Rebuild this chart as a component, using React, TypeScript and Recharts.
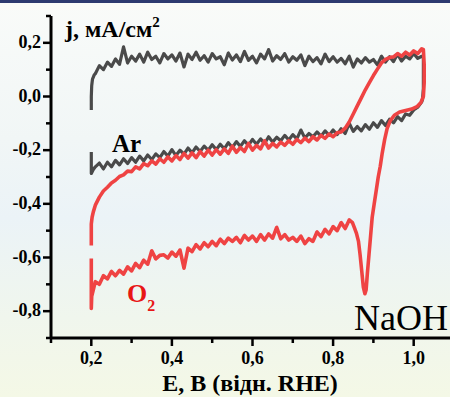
import React from 'react';
import { LineChart, Line, XAxis, YAxis } from 'recharts';

// Potential grid (V vs RHE) for the noisy branches
const E_GRID = [
  0.21, 0.22, 0.23, 0.24, 0.25, 0.26, 0.27, 0.28, 0.29, 0.3,
  0.31, 0.32, 0.33, 0.34, 0.35, 0.36, 0.37, 0.38, 0.39, 0.4,
  0.41, 0.42, 0.43, 0.44, 0.45, 0.46, 0.47, 0.48, 0.49, 0.5,
  0.51, 0.52, 0.53, 0.54, 0.55, 0.56, 0.57, 0.58, 0.59, 0.6,
  0.61, 0.62, 0.63, 0.64, 0.65, 0.66, 0.67, 0.68, 0.69, 0.7,
  0.71, 0.72, 0.73, 0.74, 0.75, 0.76, 0.77, 0.78, 0.79, 0.8,
  0.81, 0.82, 0.83, 0.84, 0.85, 0.86, 0.87, 0.88, 0.89, 0.9,
  0.91, 0.92, 0.93, 0.94, 0.95, 0.96, 0.97, 0.98, 0.99, 1.0,
  1.01, 1.02,
];

// Ar, upper branch (mA/cm2), aligned with E_GRID
const AR_UPPER = [
  0.085, 0.115, 0.1, 0.128, 0.112, 0.14, 0.12, 0.185, 0.125, 0.15,
  0.132, 0.158, 0.128, 0.165, 0.138, 0.15, 0.125, 0.16, 0.14, 0.155,
  0.132, 0.162, 0.11, 0.158, 0.138, 0.165, 0.135, 0.152, 0.128, 0.16,
  0.14, 0.148, 0.118, 0.162, 0.136, 0.155, 0.13, 0.168, 0.135, 0.15,
  0.125, 0.158, 0.14, 0.175, 0.132, 0.152, 0.138, 0.16, 0.128, 0.148,
  0.135, 0.155, 0.115, 0.15, 0.13, 0.145, 0.122, 0.158, 0.13, 0.148,
  0.128, 0.142, 0.122, 0.15, 0.11, 0.14, 0.125, 0.145, 0.128, 0.138,
  0.118, 0.15, 0.128, 0.148, 0.13, 0.158, 0.132, 0.15, 0.14, 0.16,
  0.142, 0.15,
];

// Ar, lower branch, aligned with E_GRID
const AR_LOWER = [
  -0.262, -0.248, -0.27, -0.245, -0.262, -0.238, -0.255, -0.232, -0.25, -0.228,
  -0.245, -0.222, -0.24, -0.218, -0.235, -0.214, -0.228, -0.205, -0.222, -0.198,
  -0.22, -0.2, -0.215, -0.192, -0.21, -0.188, -0.205, -0.185, -0.2, -0.18,
  -0.198, -0.178, -0.195, -0.172, -0.19, -0.168, -0.186, -0.165, -0.182, -0.16,
  -0.178, -0.158, -0.175, -0.15, -0.17, -0.152, -0.165, -0.145, -0.162, -0.142,
  -0.158, -0.125, -0.155, -0.138, -0.15, -0.132, -0.148, -0.128, -0.145, -0.125,
  -0.142, -0.12, -0.138, -0.1, -0.13, -0.112, -0.128, -0.105, -0.122, -0.098,
  -0.115, -0.09, -0.108, -0.085, -0.098, -0.075, -0.09, -0.065, -0.07, -0.05,
  -0.04, -0.02,
];

// Ar, short pieces at the ends of the sweep [E, j]
const AR_LOWER_START = [[0.2, -0.207], [0.2, -0.287], [0.205, -0.272]];
const AR_TURN = [[1.022, -0.01], [1.024, 0.03], [1.024, 0.1], [1.024, 0.15]];
const AR_UPPER_END = [[0.207, 0.08], [0.203, 0.065], [0.201, 0.04], [0.2, 0.0], [0.2, -0.05]];

// O2, upper branch, aligned with E_GRID
const O2_UPPER = [
  -0.405, -0.375, -0.352, -0.338, -0.322, -0.312, -0.298, -0.292, -0.278, -0.28,
  -0.262, -0.27, -0.25, -0.258, -0.24, -0.252, -0.232, -0.245, -0.225, -0.24,
  -0.22, -0.235, -0.212, -0.23, -0.21, -0.228, -0.205, -0.222, -0.2, -0.218,
  -0.198, -0.215, -0.195, -0.212, -0.185, -0.208, -0.19, -0.205, -0.175, -0.2,
  -0.182, -0.195, -0.165, -0.192, -0.175, -0.188, -0.17, -0.182, -0.165, -0.178,
  -0.16, -0.172, -0.155, -0.168, -0.15, -0.162, -0.145, -0.156, -0.14, -0.15,
  -0.135, -0.132, -0.118, -0.095, -0.065, -0.035, -0.005, 0.025, 0.052, 0.078,
  0.102, 0.125, 0.138, 0.145, 0.148, 0.16, 0.15, 0.165, 0.155, 0.17,
  0.16, 0.178,
];

// O2, lower branch, aligned with E_GRID from 0.21 to 0.84
const O2_LOWER = [
  -0.69, -0.7, -0.668, -0.68, -0.652, -0.668, -0.648, -0.662, -0.635, -0.65,
  -0.622, -0.638, -0.61, -0.625, -0.575, -0.605, -0.592, -0.59, -0.602, -0.58,
  -0.595, -0.572, -0.64, -0.565, -0.578, -0.552, -0.568, -0.545, -0.56, -0.54,
  -0.556, -0.532, -0.548, -0.528, -0.54, -0.525, -0.545, -0.518, -0.535, -0.52,
  -0.54, -0.515, -0.535, -0.512, -0.528, -0.488, -0.53, -0.515, -0.535, -0.525,
  -0.54, -0.52, -0.548, -0.53, -0.54, -0.505, -0.522, -0.495, -0.512, -0.485,
  -0.5, -0.47, -0.492, -0.46,
];

// O2, short pieces [E, j]
const O2_START = [[0.2, -0.555], [0.2, -0.475], [0.202, -0.45], [0.205, -0.43]];
const O2_TURN = [
  [1.024, 0.175], [1.026, 0.12], [1.026, 0.05], [1.024, 0.0], [1.018, -0.022],
  [1.008, -0.038], [0.995, -0.047], [0.98, -0.052], [0.965, -0.058], [0.952, -0.07],
  [0.942, -0.09], [0.934, -0.12], [0.928, -0.16], [0.922, -0.21], [0.917, -0.26],
  [0.912, -0.3], [0.907, -0.35], [0.902, -0.4], [0.897, -0.45], [0.893, -0.52],
  [0.889, -0.59], [0.885, -0.66], [0.882, -0.72], [0.879, -0.735], [0.875, -0.71],
  [0.871, -0.65], [0.867, -0.59], [0.863, -0.54], [0.858, -0.51], [0.853, -0.49],
  [0.848, -0.47],
];
const O2_END = [[0.205, -0.72], [0.201, -0.745], [0.2, -0.79], [0.2, -0.604]];

const X_TICKS = [0.1, 0.2, 0.3, 0.4, 0.5, 0.6, 0.7, 0.8, 0.9, 1.0, 1.1];
const Y_TICKS = [-0.9, -0.8, -0.7, -0.6, -0.5, -0.4, -0.3, -0.2, -0.1, 0.0, 0.1, 0.2, 0.3];

const pts = (arr: number[][]) => arr.map(([x, y]) => ({ x, y }));

const arData = [
  ...pts(AR_LOWER_START),
  ...E_GRID.map((x, i) => ({ x, y: AR_LOWER[i] })),
  ...pts(AR_TURN),
  ...E_GRID.map((x, i) => ({ x, y: AR_UPPER[i] })).reverse(),
  ...pts(AR_UPPER_END),
];

const o2Data = [
  ...pts(O2_START),
  ...E_GRID.map((x, i) => ({ x, y: O2_UPPER[i] })),
  ...pts(O2_TURN),
  ...O2_LOWER.map((y, i) => ({ x: E_GRID[i], y })).reverse(),
  ...pts(O2_END),
];

const FONT = '"Liberation Serif", "Times New Roman", serif';
const fmt = (v: number) => v.toFixed(1).replace('.', ',').replace('-0,0', '0,0');
const isMajor = (v: number) => Math.round(Math.abs(v) * 10) % 2 === 0;

const XTick = (props: any) => {
  const { x, y, payload } = props;
  const v = payload.value as number;
  const major = isMajor(v);
  return (
    <g>
      <line x1={x} x2={x} y1={y} y2={y + (major ? 8 : 5)} stroke="#000" strokeWidth={2.5} />
      {major && v > 0.15 && v < 1.05 && (
        <text x={x} y={y + 26} textAnchor="middle" fontFamily={FONT} fontWeight="bold" fontSize={18} fill="#000">
          {fmt(v)}
        </text>
      )}
    </g>
  );
};

const YTick = (props: any) => {
  const { x, y, payload } = props;
  const v = payload.value as number;
  const major = isMajor(v);
  return (
    <g>
      <line x1={x - (major ? 8 : 5)} x2={x} y1={y} y2={y} stroke="#000" strokeWidth={2.5} />
      {major && v > -0.85 && v < 0.25 && (
        <text x={x - 10} y={y + 5} textAnchor="end" fontFamily={FONT} fontWeight="bold" fontSize={18} fill="#000">
          {fmt(v)}
        </text>
      )}
    </g>
  );
};

export default function App() {
  return (
    <div
      style={{
        position: 'absolute',
        left: 0,
        top: 0,
        width: 450,
        height: 397,
        overflow: 'hidden',
        background: 'linear-gradient(180deg, #f9fbf9 0%, #f1f6f6 35%, #ebf3f7 55%, #f0f6ed 80%, #f4f8e6 100%)',
      }}
    >
      <div style={{ position: 'absolute', left: 0, top: 0, width: 450, height: 3, background: '#2c3a70' }} />
      <div style={{ position: 'absolute', left: 0, top: 0 }}>
        <LineChart width={454} height={397} margin={{ top: 16, right: 0, bottom: 0, left: 0 }}>
          <XAxis
            type="number"
            dataKey="x"
            domain={[0.1, 1.1]}
            ticks={X_TICKS}
            interval={0}
            allowDataOverflow
            height={59}
            tickSize={0}
            tickMargin={0}
            tick={XTick}
            axisLine={{ stroke: '#000', strokeWidth: 3 }}
          />
          <YAxis
            type="number"
            dataKey="y"
            domain={[-0.9, 0.3]}
            ticks={Y_TICKS}
            interval={0}
            allowDataOverflow
            width={51}
            tickSize={0}
            tickMargin={0}
            tick={YTick}
            axisLine={{ stroke: '#000', strokeWidth: 3 }}
          />
          <Line
            data={arData}
            dataKey="y"
            type="linear"
            stroke="#4a4a4a"
            strokeWidth={3.2}
            strokeLinejoin="round"
            dot={false}
            activeDot={false}
            isAnimationActive={false}
          />
          <Line
            data={o2Data}
            dataKey="y"
            type="linear"
            stroke="#ef4343"
            strokeWidth={3.6}
            strokeLinejoin="round"
            dot={false}
            activeDot={false}
            isAnimationActive={false}
          />
        </LineChart>
      </div>
      <svg width={450} height={397} style={{ position: 'absolute', left: 0, top: 0, pointerEvents: 'none' }}>
        <text x={65} y={37} fontFamily={FONT} fontWeight="bold" fontSize={24} fill="#000">
          j, мA/см<tspan dy={-10} fontSize={15}>2</tspan>
        </text>
        <text x={112} y={152} fontFamily={FONT} fontWeight="bold" fontSize={25} fill="#000">Ar</text>
        <text x={127} y={302} fontFamily={FONT} fontWeight="bold" fontSize={26} fill="#e81616">
          O<tspan dy={9} fontSize={16}>2</tspan>
        </text>
        <text x={354} y={330} fontFamily={FONT} fontSize={36} fill="#000">NaOH</text>
        <text x={250} y={391} textAnchor="middle" fontFamily={FONT} fontWeight="bold" fontSize={24} fill="#000">
          E, B (відн. RHE)
        </text>
      </svg>
    </div>
  );
}
